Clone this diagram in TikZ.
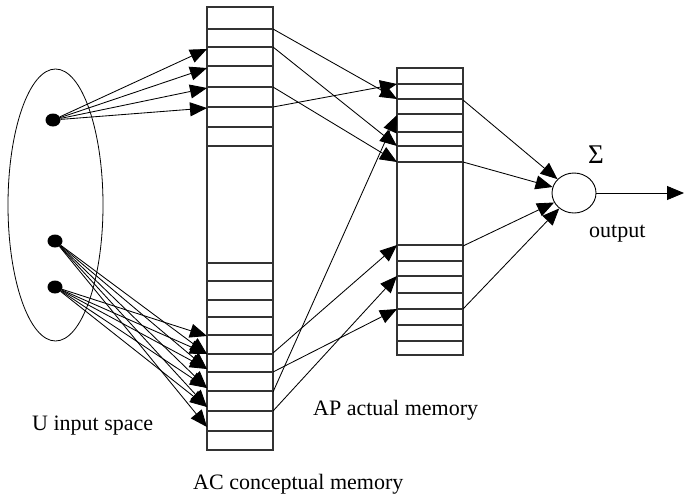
\documentclass[tikz,border=0pt]{standalone}
\usepackage{fontspec}
\setmainfont{Liberation Serif}
\usetikzlibrary{arrows.meta,shapes.geometric}
\begin{document}
\begin{tikzpicture}[x=1pt,y=-1pt,
  conn/.style={line width=0.85pt,-{Triangle[length=17pt,width=14pt]}},
  cellbox/.style={draw=black!80,line width=1.1pt},
  inpdot/.style={ellipse,fill=black,minimum width=15pt,minimum height=13pt,inner sep=0pt},
  lbl/.style={anchor=base west,inner sep=0pt,font=\fontsize{22}{26}\selectfont}]
\useasboundingbox (0,0) rectangle (684,498);
% AC conceptual memory
\draw[cellbox] (207,7) rectangle (273,450);
\foreach \y in {29,47,66,87,107,127,146,263,281,300,317,335,354,372,391,411,431}
  \draw[cellbox] (207,\y) -- (273,\y);
% AP actual memory
\draw[cellbox] (397,68) rectangle (463,355);
\foreach \y in {84,99,114,132,146,162,245,261,276,293,309,325,341}
  \draw[cellbox] (397,\y) -- (463,\y);
% coordinates
\foreach \y in {49,68,88,108,336,354,369,388,407,427}
  \coordinate (acin\y) at (207,\y);
\foreach \y in {29,47,87,107,353,372,392,411}
  \coordinate (acout\y) at (273,\y);
\foreach \y in {84,99,115,146,162,245,276,309}
  \coordinate (apin\y) at (397,\y);
\foreach \y in {100,162,246,309}
  \coordinate (apout\y) at (463,\y);
% input space
\node[draw,ellipse,minimum width=95pt,minimum height=272pt,inner sep=0pt,line width=0.8pt] (U) at (55.5,205) {};
\node[inpdot] (u1) at (53,120) {};
\node[inpdot] (u2) at (55,241) {};
\node[inpdot] (u3) at (55,287) {};
% input -> AC
\foreach \y in {49,68,88,108} \draw[conn] (u1) -- (acin\y);
\foreach \y in {354,369,388,407,427} \draw[conn] (u2) -- (acin\y);
\foreach \y in {336,354,369,388,407} \draw[conn] (u3) -- (acin\y);
% AC -> AP
\draw[conn] (acout29) -- (apin99);
\draw[conn] (acout47) -- (apin146);
\draw[conn] (acout87) -- (apin162);
\draw[conn] (acout107) -- (apin84);
\draw[conn] (acout353) -- (apin245);
\draw[conn] (acout372) -- (apin309);
\draw[conn] (acout392) -- (apin115);
\draw[conn] (acout411) -- (apin276);
% sum
\node[draw,ellipse,minimum width=44pt,minimum height=40pt,inner sep=0pt,line width=0.9pt] (sum) at (574,193) {};
\foreach \y in {100,162,246,309} \draw[conn] (apout\y) -- (sum);
\coordinate (out) at (684,193);
\draw[conn] (sum) -- (out);
% labels
\node[lbl,font=\fontsize{27}{30}\selectfont] (sig) at (588,163) {Σ};
\node[lbl] (outl) at (589,237) {output};
\node[lbl] (lu) at (32,430) {U input space};
\node[lbl] (lap) at (313,415) {AP actual memory};
\node[lbl] (lac) at (193,489) {AC conceptual memory};
\end{tikzpicture}
\end{document}
